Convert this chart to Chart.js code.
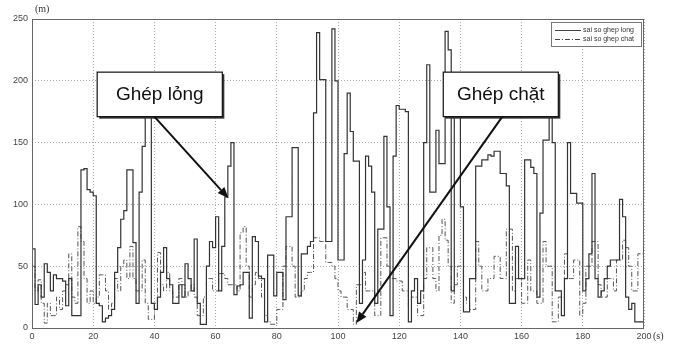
<!DOCTYPE html>
<html lang="vi">
<head>
<meta charset="UTF-8">
<title>Sai so ghep long / ghep chat</title>
<script src="https://cdn.jsdelivr.net/npm/chart.js@4.4.1/dist/chart.umd.min.js"></script>
<style>
  body { margin: 0; background: #fff; }
</style>
</head>
<body>
<canvas id="myChart" width="677" height="345"></canvas>
<script>
// error per second, 0..199 s (m)
const ghepLong = [
  91, 64, 19, 35, 25, 52, 45, 30, 43, 40,  40, 38, 18, 40, 10, 10, 10,128,129,112,
 110,107, 20, 18,  5,  8, 10, 15, 45, 65,  88, 95,128,128, 69, 20,110,147,176,176,
  20, 15, 25, 45, 65, 40, 35, 20, 20, 35,  25, 52, 40, 30, 72, 20,  3,  3, 50, 70,
  65, 90, 30, 66,106,131,150, 27, 34, 35,  45, 45,  8, 74, 70, 42, 40,  5, 59, 59,
  26, 45, 45, 23, 90, 90,146,146, 26, 60,  60, 66, 70,174,239,201,201, 70, 70,242,
 200, 55, 55,141,190,159,135,135, 20, 55, 139,131,110, 20, 80, 80,155, 98, 10,139,
 180,177,177,175,  5, 30, 40, 20, 30,150, 213,110,110,160,133,133,240,225, 30,180,
 180, 98, 13, 13, 40, 40,131,131,136,136, 140,139,143,143,125,125,115, 20, 20, 66,
  40, 40,136,136,130,125, 25, 93,152,152, 190,150, 30, 30, 10, 40,150,109,109,101,
 101, 30, 40, 60,125, 40, 25, 30, 40, 50,  55, 55, 55,104, 90, 25, 15, 20,  5,  5
];
const ghepChat = [
  50, 50, 30, 39, 20,  4, 20, 10, 10, 25,  15, 30, 35, 60, 25, 20, 82, 70, 40, 20,
  30, 20, 25, 43, 43, 30, 15, 20, 40, 30,  50, 55, 40, 66, 40, 30, 30, 55, 20,  7,
   7, 20, 61, 35, 30, 45, 30, 25, 25, 40,  35, 25, 30, 35, 25, 10, 10, 25, 40, 40,
  30, 30, 44, 44, 40, 35, 35, 35, 30, 77,  82, 50, 25, 35, 45, 40, 25, 10,  5,  3,
   3, 15, 15, 50, 66, 66, 50, 25, 25, 30,  40, 45, 45, 73, 73, 70, 70, 53, 53, 50,
  40, 30, 25, 25, 15, 15,  3, 35, 35, 45,  30, 30, 30, 10, 10, 73, 73, 50, 40, 40,
  38, 38, 30, 30, 15, 25, 25, 10, 10, 40,  65, 65, 40, 30, 75, 88, 71, 50, 20, 35,
  50, 50, 25, 20, 15, 15, 70, 50, 30, 30,  40, 40, 58, 58, 40, 40, 80, 80, 30, 40,
  40, 20, 20, 55, 30, 30, 20, 20, 70, 50,  50,  5,  5, 25, 25, 60, 40, 40, 55, 55,
  10, 20, 50, 50, 70, 70, 35, 25, 25, 40,  40, 30, 55, 55, 71, 65, 50, 30, 30, 60
];
const seriesNames = ['sai so ghep long', 'sai so ghep chat'];
const xTicks = [0, 20, 40, 60, 80, 100, 120, 140, 160, 180, 200];
const yTicks = [0, 50, 100, 150, 200, 250];

// callout boxes and arrows, in data units (s, m)
const callouts = [
  { text: 'Ghép lỏng', box: [21.3, 62.2, 207, 171], from: [40, 171], to: [64.2, 105] },
  { text: 'Ghép chặt', box: [134.4, 172, 207, 171], from: [153.7, 171], to: [106, 4] }
];

function toPoints(arr) {
  const pts = arr.map((v, i) => ({ x: i, y: v }));
  pts.push({ x: arr.length, y: arr[arr.length - 1] });
  return pts;
}

function arrow(ctx, x1, y1, x2, y2) {
  const a = Math.atan2(y2 - y1, x2 - x1);
  const len = 11, hw = 4.5;
  const bx = x2 - len * Math.cos(a), by = y2 - len * Math.sin(a);
  ctx.beginPath();
  ctx.moveTo(x1, y1);
  ctx.lineTo(bx, by);
  ctx.stroke();
  ctx.beginPath();
  ctx.moveTo(x2, y2);
  ctx.lineTo(bx + hw * Math.sin(a), by - hw * Math.cos(a));
  ctx.lineTo(bx - hw * Math.sin(a), by + hw * Math.cos(a));
  ctx.closePath();
  ctx.fill();
}

const extras = {
  id: 'extras',
  afterDatasetsDraw(chart) {
    const { ctx, chartArea: ca, scales: { x, y } } = chart;
    ctx.save();
    // axes box
    ctx.strokeStyle = '#666';
    ctx.lineWidth = 1;
    ctx.setLineDash([]);
    ctx.strokeRect(ca.left + 0.5, ca.top + 0.5, ca.right - ca.left - 1, ca.bottom - ca.top);

    // legend
    const lx = ca.right - 93, ly = ca.top + 3;
    ctx.fillStyle = '#fff';
    ctx.fillRect(lx, ly, 91, 25);
    ctx.strokeStyle = '#777';
    ctx.strokeRect(lx + 0.5, ly + 0.5, 90, 24);
    ctx.font = '7px "Liberation Sans", Arial, sans-serif';
    ctx.textBaseline = 'middle';
    ctx.fillStyle = '#333';
    [[[], ly + 8], [[5, 2, 1, 2], ly + 17]].forEach(([dash, yy], i) => {
      ctx.setLineDash(dash);
      ctx.strokeStyle = '#444';
      ctx.beginPath();
      ctx.moveTo(lx + 4, yy + 0.5);
      ctx.lineTo(lx + 30, yy + 0.5);
      ctx.stroke();
      ctx.setLineDash([]);
      ctx.fillText(seriesNames[i], lx + 32, yy);
    });

    // callouts
    callouts.forEach(c => {
      const x1 = x.getPixelForValue(c.box[0]), x2 = x.getPixelForValue(c.box[1]);
      const y1 = y.getPixelForValue(c.box[2]), y2 = y.getPixelForValue(c.box[3]);
      ctx.fillStyle = '#333';
      ctx.fillRect(x1 + 2, y1 + 2, x2 - x1, y2 - y1);
      ctx.fillStyle = '#fff';
      ctx.fillRect(x1, y1, x2 - x1, y2 - y1);
      ctx.strokeStyle = '#111';
      ctx.lineWidth = 1.2;
      ctx.strokeRect(x1, y1, x2 - x1, y2 - y1);
      ctx.fillStyle = '#111';
      ctx.font = '19px "Liberation Sans", Arial, sans-serif';
      ctx.textAlign = 'center';
      ctx.textBaseline = 'middle';
      ctx.fillText(c.text, (x1 + x2) / 2, (y1 + y2) / 2);
      ctx.lineWidth = 2;
      ctx.strokeStyle = '#111';
      arrow(ctx, x.getPixelForValue(c.from[0]), y.getPixelForValue(c.from[1]),
                 x.getPixelForValue(c.to[0]), y.getPixelForValue(c.to[1]));
    });

    // unit labels
    ctx.fillStyle = '#333';
    ctx.font = '10px "Liberation Serif", "Times New Roman", serif';
    ctx.textAlign = 'left';
    ctx.textBaseline = 'middle';
    ctx.fillText('(m)', ca.left + 3, 9);
    ctx.fillText('(s)', ca.right + 9, ca.bottom + 8);
    ctx.restore();
  }
};

new Chart(document.getElementById('myChart'), {
  type: 'line',
  data: {
    datasets: [{
      label: seriesNames[0],
      data: toPoints(ghepLong),
      stepped: 'after',
      borderColor: '#333',
      borderWidth: 1.2,
      pointRadius: 0,
      fill: false
    }, {
      label: seriesNames[1],
      data: toPoints(ghepChat),
      stepped: 'after',
      borderColor: '#555',
      borderWidth: 1,
      borderDash: [5, 2, 1, 2],
      pointRadius: 0,
      fill: false
    }]
  },
  options: {
    responsive: false,
    devicePixelRatio: 1,
    animation: false,
    layout: { padding: { top: 19, right: 33, left: 0, bottom: 0 } },
    plugins: { legend: { display: false }, tooltip: { enabled: false } },
    scales: {
      x: {
        type: 'linear',
        min: 0,
        max: 200,
        afterBuildTicks: s => { s.ticks = xTicks.map(v => ({ value: v })); },
        afterFit: s => { s.height = 17; },
        ticks: { color: '#444', font: { size: 9, family: '"Liberation Sans", Arial' }, padding: 3, maxRotation: 0 },
        grid: { color: '#aaa', drawTicks: false },
        border: { display: false, dash: [1, 2] }
      },
      y: {
        min: 0,
        max: 250,
        afterBuildTicks: s => { s.ticks = yTicks.map(v => ({ value: v })); },
        afterFit: s => { s.width = 32; },
        ticks: { color: '#444', font: { size: 9, family: '"Liberation Sans", Arial' }, padding: 4 },
        grid: { color: '#aaa', drawTicks: false },
        border: { display: false, dash: [1, 2] }
      }
    }
  },
  plugins: [extras]
});
</script>
</body>
</html>
